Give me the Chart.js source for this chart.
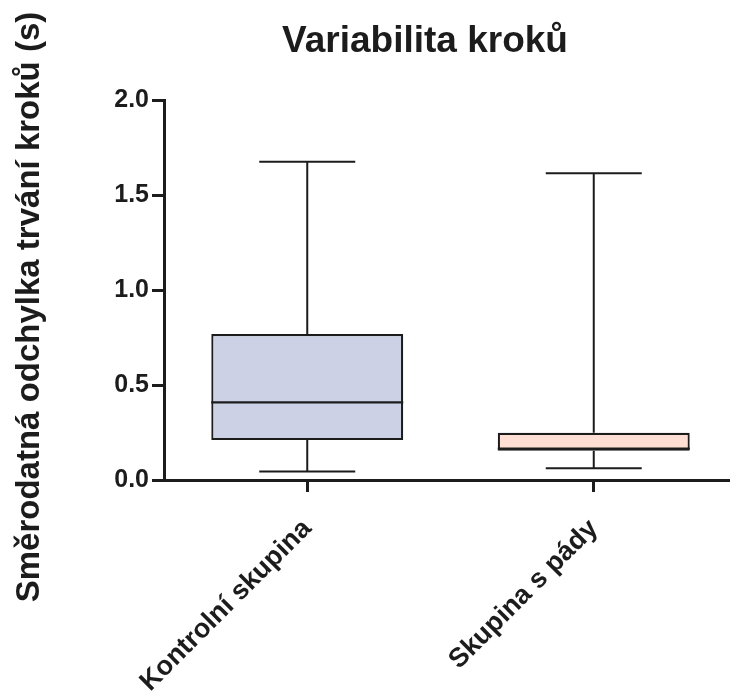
<!DOCTYPE html>
<html lang="cs">
<head>
<meta charset="UTF-8">
<title>Variabilita kroků</title>
<style>
  body { margin: 0; padding: 0; background: #fff; overflow: hidden; }
  /* a few px wider than the window so the x axis runs off the right edge */
  #wrap { position: relative; width: 737px; height: 699px; }
</style>
</head>
<body>
<div id="wrap"><canvas id="box-chart"></canvas></div>
<script src="https://cdn.jsdelivr.net/npm/chart.js"></script>
<script>
// values
const groups = ['Kontrolní skupina', 'Skupina s pády'];
const whiskerMin = [0.045, 0.062];
const quartile1 = [0.21, 0.154];
const medians = [0.409, 0.165];
const quartile3 = [0.768, 0.249];
const whiskerMax = [1.675, 1.615];
const yTicks = [0, 0.5, 1.0, 1.5, 2.0];
const boxColors = ['#cdd1e5', '#ffdfd3'];

const chartTitle = 'Variabilita kroků';
const yTitle = 'Směrodatná odchylka trvání kroků (s)';

const ink = '#1c1c1c';
const fontFamily = '"Liberation Sans", Arial, sans-serif';

// whiskers, caps and median lines, placed with the chart's own scales
const whiskerPlugin = {
    id: 'whiskers',
    afterDatasetsDraw(chart) {
        const ctx = chart.ctx;
        const y = chart.scales.y;
        const meta = chart.getDatasetMeta(0);
        ctx.save();
        ctx.strokeStyle = ink;
        meta.data.forEach((bar, i) => {
            const cx = bar.x;
            const half = bar.width / 2;
            const cap = bar.width / 4;
            const yMax = y.getPixelForValue(whiskerMax[i]);
            const yMin = y.getPixelForValue(whiskerMin[i]);

            ctx.lineWidth = 2;
            ctx.beginPath();
            ctx.moveTo(cx, yMax);
            ctx.lineTo(cx, y.getPixelForValue(quartile3[i]));
            ctx.moveTo(cx, y.getPixelForValue(quartile1[i]));
            ctx.lineTo(cx, yMin);
            ctx.moveTo(cx - cap, yMax);
            ctx.lineTo(cx + cap, yMax);
            ctx.moveTo(cx - cap, yMin);
            ctx.lineTo(cx + cap, yMin);
            ctx.stroke();

            ctx.lineWidth = 2.2;
            ctx.beginPath();
            const ym = y.getPixelForValue(medians[i]);
            ctx.moveTo(cx - half, ym);
            ctx.lineTo(cx + half, ym);
            ctx.stroke();
        });
        ctx.restore();
    }
};

// chart title and rotated y title
const titlesPlugin = {
    id: 'titles',
    afterDraw(chart) {
        const ctx = chart.ctx;
        ctx.save();
        ctx.fillStyle = ink;
        ctx.textAlign = 'center';
        ctx.textBaseline = 'alphabetic';
        ctx.font = 'bold 37px ' + fontFamily;
        ctx.fillText(chartTitle, 425, 52);

        ctx.translate(39, 307);
        ctx.rotate(-Math.PI / 2);
        ctx.font = 'bold 33px ' + fontFamily;
        ctx.fillText(yTitle, 0, 0);
        ctx.restore();
    }
};

new Chart(document.getElementById('box-chart'), {
    type: 'bar',
    data: {
        labels: groups,
        datasets: [{
            data: groups.map((g, i) => [quartile1[i], quartile3[i]]),
            backgroundColor: boxColors,
            borderColor: ink,
            borderWidth: 2.2,
            borderSkipped: false,
            barPercentage: 0.67,
            categoryPercentage: 1
        }]
    },
    options: {
        responsive: true,
        maintainAspectRatio: false,
        animation: false,
        layout: {
            padding: { top: 100, left: 0, right: 0, bottom: 0 }
        },
        plugins: {
            legend: { display: false },
            tooltip: { enabled: false },
            title: { display: false }
        },
        scales: {
            x: {
                offset: true,
                afterFit: scale => { scale.height = 219; },
                border: { display: true, color: ink, width: 3 },
                grid: {
                    drawOnChartArea: false,
                    drawTicks: true,
                    tickLength: 12,
                    tickWidth: 3,
                    tickColor: ink,
                    offset: false
                },
                ticks: {
                    color: ink,
                    minRotation: 45,
                    maxRotation: 45,
                    padding: 21,
                    font: { family: fontFamily, size: 27, weight: 'bold' }
                }
            },
            y: {
                min: 0,
                max: 2,
                afterFit: scale => { scale.width = 164; },
                afterBuildTicks: scale => { scale.ticks = yTicks.map(v => ({ value: v })); },
                border: { display: true, color: ink, width: 3 },
                grid: {
                    drawOnChartArea: false,
                    drawTicks: true,
                    tickLength: 12,
                    tickWidth: 3,
                    tickColor: ink
                },
                ticks: {
                    color: ink,
                    padding: 3,
                    font: { family: fontFamily, size: 25, weight: 'bold' },
                    callback: v => v.toFixed(1)
                }
            }
        }
    },
    plugins: [whiskerPlugin, titlesPlugin]
});
</script>
</body>
</html>
